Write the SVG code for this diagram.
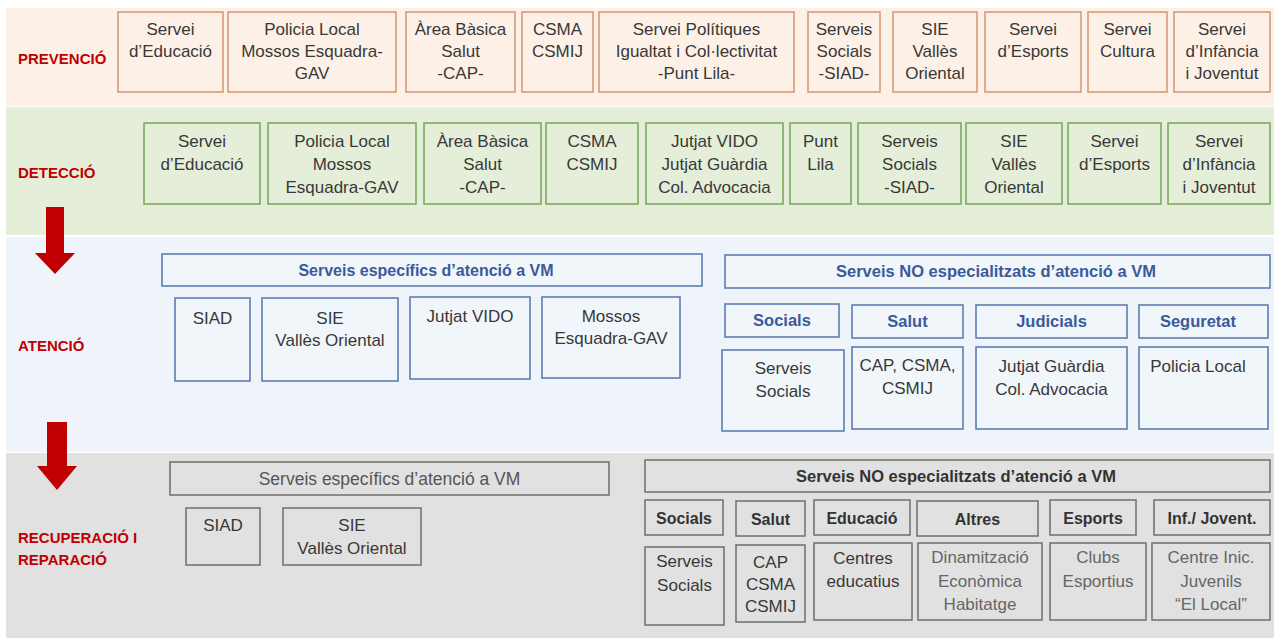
<svg xmlns="http://www.w3.org/2000/svg" width="1274" height="638" viewBox="0 0 1274 638">
<defs>
<style>
text{font-family:"Liberation Sans","DejaVu Sans",sans-serif;font-size:17px;text-anchor:middle;fill:#383838}
.lbl{font-weight:bold;font-size:15px;fill:#c00000;text-anchor:start}
.pv{fill:#fdf1e7;stroke:#d49470;stroke-width:1.5}
.dt{fill:#e4eed9;stroke:#77a65a;stroke-width:1.5}
.at{fill:#f1f6fb;stroke:#5576ad;stroke-width:1.5}
.rc{fill:#e1e1e1;stroke:#6e6e6e;stroke-width:1.5}
.hb{font-weight:bold;fill:#3a5a9a;font-size:16px}
.hc{font-weight:bold;fill:#3a5a9a;font-size:16.5px}
.hg{fill:#555;font-size:17.5px}
.hd{font-weight:bold;fill:#333;font-size:16.5px}
.hs{font-weight:bold;fill:#333;font-size:16px}
.lt{fill:#666}
.arrow{fill:#c00000}
</style>
</defs>
<rect x="0" y="0" width="1274" height="638" fill="#ffffff"/>
<rect x="6" y="8" width="1268" height="98" fill="#fdf1e7"/>
<rect x="6" y="107" width="1268" height="128" fill="#e4eed9"/>
<rect x="6" y="237" width="1268" height="215" fill="#eef4fa"/>
<rect x="6" y="453" width="1268" height="185" fill="#e1e1e1"/>

<g id="labels">
<text class="lbl" x="18" y="64">PREVENCIÓ</text>
<text class="lbl" x="18" y="178">DETECCIÓ</text>
<text class="lbl" x="18" y="351">ATENCIÓ</text>
<text class="lbl" x="18" y="543">RECUPERACIÓ I</text>
<text class="lbl" x="18" y="565">REPARACIÓ</text>
</g>

<g id="connectors">
<polygon class="arrow" points="46,207 64,207 64,253 75,253 55,274 35,253 46,253"/>
<polygon class="arrow" points="47,422 67,422 67,466 77,466 57,490 37,466 47,466"/>
</g>

<!-- PREVENCIO -->
<g id="p1"><rect class="pv" x="118" y="12" width="105" height="80"/><text x="170.5" y="35">Servei</text><text x="170.5" y="57">d’Educació</text></g>
<g id="p2"><rect class="pv" x="228" y="12" width="168" height="80"/><text x="312" y="35">Policia Local</text><text x="312" y="57">Mossos Esquadra-</text><text x="312" y="79">GAV</text></g>
<g id="p3"><rect class="pv" x="406" y="12" width="109" height="80"/><text x="460.5" y="35">Àrea Bàsica</text><text x="460.5" y="57">Salut</text><text x="460.5" y="79">-CAP-</text></g>
<g id="p4"><rect class="pv" x="522" y="12" width="71" height="80"/><text x="557.5" y="35">CSMA</text><text x="557.5" y="57">CSMIJ</text></g>
<g id="p5"><rect class="pv" x="599" y="12" width="195" height="80"/><text x="696.5" y="35">Servei Polítiques</text><text x="696.5" y="57">Igualtat i Col·lectivitat</text><text x="696.5" y="79">-Punt Lila-</text></g>
<g id="p6"><rect class="pv" x="808" y="12" width="72" height="80"/><text x="844" y="35">Serveis</text><text x="844" y="57">Socials</text><text x="844" y="79">-SIAD-</text></g>
<g id="p7"><rect class="pv" x="893" y="12" width="84" height="80"/><text x="935" y="35">SIE</text><text x="935" y="57">Vallès</text><text x="935" y="79">Oriental</text></g>
<g id="p8"><rect class="pv" x="985" y="12" width="96" height="80"/><text x="1033" y="35">Servei</text><text x="1033" y="57">d’Esports</text></g>
<g id="p9"><rect class="pv" x="1088" y="12" width="79" height="80"/><text x="1127.5" y="35">Servei</text><text x="1127.5" y="57">Cultura</text></g>
<g id="p10"><rect class="pv" x="1174" y="12" width="96" height="80"/><text x="1222" y="35">Servei</text><text x="1222" y="57">d’Infància</text><text x="1222" y="79">i Joventut</text></g>

<!-- DETECCIO -->
<g id="d1"><rect class="dt" x="144" y="123" width="116" height="81"/><text x="202" y="147">Servei</text><text x="202" y="170">d’Educació</text></g>
<g id="d2"><rect class="dt" x="268" y="123" width="148" height="81"/><text x="342" y="147">Policia Local</text><text x="342" y="170">Mossos</text><text x="342" y="193">Esquadra-GAV</text></g>
<g id="d3"><rect class="dt" x="424" y="123" width="117" height="81"/><text x="482.5" y="147">Àrea Bàsica</text><text x="482.5" y="170">Salut</text><text x="482.5" y="193">-CAP-</text></g>
<g id="d4"><rect class="dt" x="546" y="123" width="92" height="81"/><text x="592" y="147">CSMA</text><text x="592" y="170">CSMIJ</text></g>
<g id="d5"><rect class="dt" x="646" y="123" width="137" height="81"/><text x="714.5" y="147">Jutjat VIDO</text><text x="714.5" y="170">Jutjat Guàrdia</text><text x="714.5" y="193">Col. Advocacia</text></g>
<g id="d6"><rect class="dt" x="790" y="123" width="61" height="81"/><text x="820.5" y="147">Punt</text><text x="820.5" y="170">Lila</text></g>
<g id="d7"><rect class="dt" x="858" y="123" width="103" height="81"/><text x="909.5" y="147">Serveis</text><text x="909.5" y="170">Socials</text><text x="909.5" y="193">-SIAD-</text></g>
<g id="d8"><rect class="dt" x="966" y="123" width="96" height="81"/><text x="1014" y="147">SIE</text><text x="1014" y="170">Vallès</text><text x="1014" y="193">Oriental</text></g>
<g id="d9"><rect class="dt" x="1068" y="123" width="93" height="81"/><text x="1114.5" y="147">Servei</text><text x="1114.5" y="170">d’Esports</text></g>
<g id="d10"><rect class="dt" x="1168" y="123" width="102" height="81"/><text x="1219" y="147">Servei</text><text x="1219" y="170">d’Infància</text><text x="1219" y="193">i Joventut</text></g>

<!-- ATENCIO -->
<g id="a-esp"><rect class="at" x="162" y="254" width="540" height="32"/><text class="hb" x="426" y="276">Serveis específics d’atenció a VM</text></g>
<g id="a1"><rect class="at" x="175" y="298" width="75" height="83"/><text x="212.5" y="324">SIAD</text></g>
<g id="a2"><rect class="at" x="262" y="298" width="136" height="83"/><text x="330" y="324">SIE</text><text x="330" y="346">Vallès Oriental</text></g>
<g id="a3"><rect class="at" x="410" y="297" width="120" height="82"/><text x="470" y="322">Jutjat VIDO</text></g>
<g id="a4"><rect class="at" x="542" y="297" width="138" height="81"/><text x="611" y="322">Mossos</text><text x="611" y="344">Esquadra-GAV</text></g>
<g id="a-noesp"><rect class="at" x="725" y="255" width="545" height="33"/><text class="hc" x="996" y="277">Serveis NO especialitzats d’atenció a VM</text></g>
<g id="a-h1"><rect class="at" x="725" y="304" width="114" height="33"/><text class="hc" x="782" y="326">Socials</text></g>
<g id="a-h2"><rect class="at" x="852" y="305" width="111" height="33"/><text class="hc" x="907.5" y="327">Salut</text></g>
<g id="a-h3"><rect class="at" x="976" y="305" width="151" height="33"/><text class="hc" x="1051.5" y="327">Judicials</text></g>
<g id="a-h4"><rect class="at" x="1139" y="305" width="129" height="33"/><text class="hc" x="1198" y="327">Seguretat</text></g>
<g id="a-c1"><rect class="at" x="722" y="350" width="122" height="81"/><text x="783" y="374">Serveis</text><text x="783" y="397">Socials</text></g>
<g id="a-c2"><rect class="at" x="852" y="347" width="111" height="82"/><text x="907.5" y="371">CAP, CSMA,</text><text x="907.5" y="394">CSMIJ</text></g>
<g id="a-c3"><rect class="at" x="976" y="347" width="151" height="82"/><text x="1051.5" y="372">Jutjat Guàrdia</text><text x="1051.5" y="395">Col. Advocacia</text></g>
<g id="a-c4"><rect class="at" x="1139" y="347" width="129" height="82"/><text x="1198" y="372">Policia Local</text></g>

<!-- RECUPERACIO -->
<g id="r-esp"><rect class="rc" x="170" y="462" width="439" height="33"/><text class="hg" x="389.5" y="485">Serveis específics d’atenció a VM</text></g>
<g id="r1"><rect class="rc" x="186" y="508" width="74" height="57"/><text x="223" y="531">SIAD</text></g>
<g id="r2"><rect class="rc" x="283" y="508" width="138" height="57"/><text x="352" y="531">SIE</text><text x="352" y="554">Vallès Oriental</text></g>
<g id="r-noesp"><rect class="rc" x="645" y="460" width="625" height="32"/><text class="hd" x="956" y="482">Serveis NO especialitzats d’atenció a VM</text></g>
<g id="r-h1"><rect class="rc" x="645" y="500" width="78" height="35"/><text class="hs" x="684" y="524">Socials</text></g>
<g id="r-h2"><rect class="rc" x="736" y="501" width="69" height="35"/><text class="hs" x="770.5" y="525">Salut</text></g>
<g id="r-h3"><rect class="rc" x="814" y="500" width="96" height="35"/><text class="hs" x="862" y="524">Educació</text></g>
<g id="r-h4"><rect class="rc" x="917" y="501" width="121" height="35"/><text class="hs" x="977.5" y="525">Altres</text></g>
<g id="r-h5"><rect class="rc" x="1050" y="500" width="86" height="35"/><text class="hs" x="1093" y="524">Esports</text></g>
<g id="r-h6"><rect class="rc" x="1154" y="500" width="116" height="35"/><text class="hs" x="1212" y="524">Inf./ Jovent.</text></g>
<g id="r-c1"><rect class="rc" x="645" y="547" width="79" height="78"/><text x="684.5" y="567">Serveis</text><text x="684.5" y="591">Socials</text></g>
<g id="r-c2"><rect class="rc" x="736" y="545" width="69" height="77"/><text x="770.5" y="568">CAP</text><text x="770.5" y="590">CSMA</text><text x="770.5" y="612">CSMIJ</text></g>
<g id="r-c3"><rect class="rc" x="814" y="543" width="98" height="77"/><text x="863" y="564">Centres</text><text x="863" y="587">educatius</text></g>
<g id="r-c4"><rect class="rc" x="918" y="543" width="124" height="77"/><text class="lt" x="980" y="563">Dinamització</text><text class="lt" x="980" y="587">Econòmica</text><text class="lt" x="980" y="610">Habitatge</text></g>
<g id="r-c5"><rect class="rc" x="1050" y="543" width="96" height="77"/><text class="lt" x="1098" y="563">Clubs</text><text class="lt" x="1098" y="587">Esportius</text></g>
<g id="r-c6"><rect class="rc" x="1152" y="543" width="118" height="77"/><text class="lt" x="1211" y="563">Centre Inic.</text><text class="lt" x="1211" y="587">Juvenils</text><text class="lt" x="1211" y="610">“El Local”</text></g>
</svg>
